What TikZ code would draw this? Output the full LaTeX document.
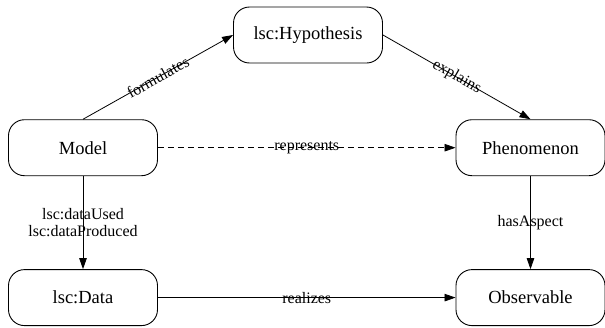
\documentclass[tikz,border=0pt]{standalone}
\usepackage{fontspec}
\setmainfont{Liberation Serif}
\usetikzlibrary{arrows.meta}
\begin{document}
\begin{tikzpicture}[x=1pt,y=-1pt,
  box/.style={draw, line width=0.9pt, rounded corners=16pt, minimum width=149pt, minimum height=56pt, inner sep=0pt, font=\fontsize{18.5}{22}\selectfont},
  conn/.style={line width=0.8pt, -{Triangle[length=11pt,width=7.5pt]}},
  elabel/.style={font=\fontsize{16}{17}\selectfont, inner sep=0pt}]
\useasboundingbox (0,0) rectangle (605,327);
\node[box] (model) at (83,147.7) {Model};
\node[box] (data) at (83,297.6) {lsc:Data};
\node[box] (hyp) at (308,35) {lsc:Hypothesis};
\node[box] (phen) at (530.5,147.7) {Phenomenon};
\node[box] (obs) at (530.5,297.6) {Observable};
\draw[conn] (model.north) -- node[elabel, sloped] {formulates} (hyp.west);
\draw[conn] (hyp.east) -- node[elabel, sloped] {explains} (phen.north);
\draw[conn, dash pattern=on 6pt off 4pt] (model.east) -- node[elabel] {represents} (phen.west);
\draw[conn] (model.south) -- node[elabel, align=center] {lsc:dataUsed\\lsc:dataProduced} (data.north);
\draw[conn] (phen.south) -- node[elabel] {hasAspect} (obs.north);
\draw[conn] (data.east) -- node[elabel] {realizes} (obs.west);
\end{tikzpicture}
\end{document}
